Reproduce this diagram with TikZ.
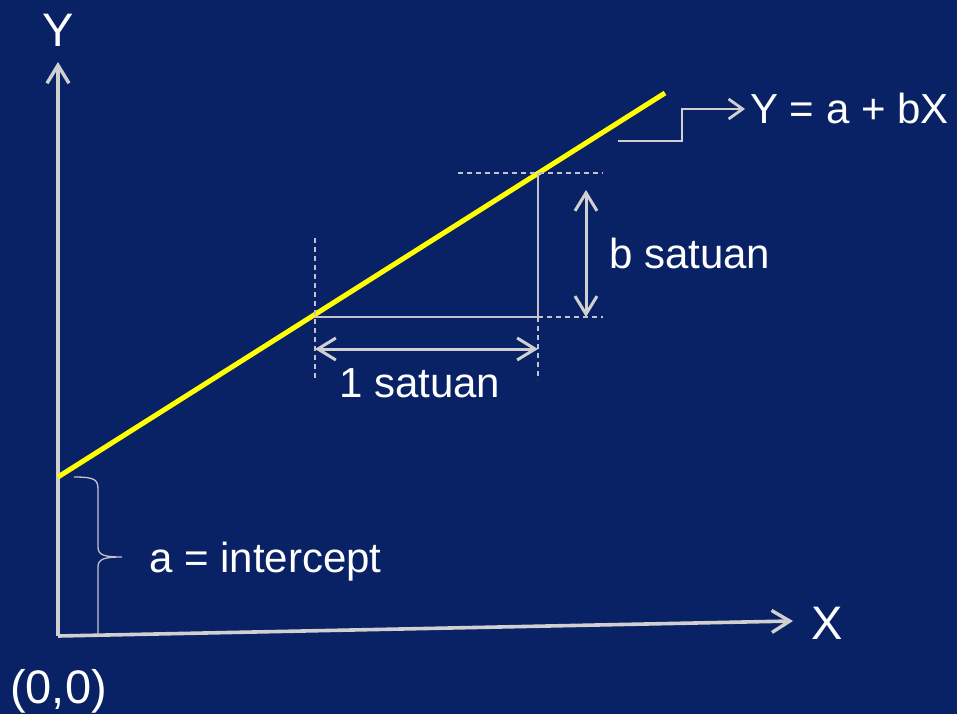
\documentclass[tikz,border=0pt]{standalone}
\usepackage{fontspec}
\setmainfont{Liberation Sans}
\usetikzlibrary{arrows.meta}
\definecolor{bg}{RGB}{9,34,102}
\definecolor{axisgray}{RGB}{208,208,208}
\definecolor{thingray}{RGB}{195,195,205}
\definecolor{lineyellow}{RGB}{255,255,0}
\begin{document}
\begin{tikzpicture}[x=1pt,y=-1pt,
  axis/.style={draw=axisgray,line width=3.6pt,-{Straight Barb[length=18pt,width=22pt,line width=3.4pt]}},
  dimarrow/.style={draw=axisgray,line width=3pt,{Straight Barb[length=18pt,width=22pt,line width=3pt]}-{Straight Barb[length=18pt,width=22pt,line width=3pt]}},
  thinline/.style={draw=thingray,line width=1.3pt},
  dashline/.style={draw=thingray,line width=1.3pt,dash pattern=on 5pt off 4pt},
  lbl/.style={text=white,inner sep=0pt,font=\fontsize{42}{48}\selectfont},
  axlbl/.style={text=white,inner sep=0pt,font=\fontsize{47}{54}\selectfont}]
\useasboundingbox (0,0) rectangle (957,714);
\fill[bg] (0,0) rectangle (957,714);
% coordinates
\coordinate (O) at (58,636);
\coordinate (Ytip) at (58,62);
\coordinate (Xtip) at (793,621);
\coordinate (A) at (58,477);
\coordinate (E) at (665,93);
\coordinate (P) at (315,317);
\coordinate (Q) at (538,173);
\coordinate (R) at (538,317);
% axes
\draw[axis] (O) -- (Ytip);
\draw[axis] (O) -- (Xtip);
% regression line
\draw[lineyellow,line width=5pt] (A) -- (E);
% construction lines
\draw[dashline] (458,173) -- (603,173);
\draw[dashline] (315,238) -- (315,380);
\draw[thinline] (Q) -- (R);
\draw[dashline] (R) -- (538,380);
\draw[thinline] (P) -- (R);
\draw[dashline] (R) -- (603,317);
% dimension arrows
\coordinate (h1) at (315,349);
\coordinate (h2) at (538,349);
\draw[dimarrow] (h1) -- (h2);
\coordinate (v1) at (586,190);
\coordinate (v2) at (586,317);
\draw[dimarrow] (v1) -- (v2);
% equation connector
\coordinate (c0) at (618,141);
\coordinate (c1) at (745,109);
\draw[draw=axisgray,line width=2.8pt,-{Straight Barb[length=14pt,width=20pt,line width=2.8pt]}]
  (c0) -- (682,141) -- (682,109) -- (c1);
% brace
\draw[thinline] (74,477) .. controls (96,477) and (98,480) .. (98,490) -- (98,547)
  .. controls (98,555) and (104,557) .. (122,557)
  .. controls (104,557) and (98,559) .. (98,567) -- (98,634);
% labels
\node[axlbl,anchor=base] (ylab) at (58,47) {Y};
\node[axlbl,anchor=base west] (xlab) at (811,639) {X};
\node[axlbl,anchor=base west] (olab) at (10,703) {(0,0)};
\node[lbl,anchor=base west] (eq) at (750,124) {Y = a + bX};
\node[lbl,anchor=base west] (bs) at (609,268) {b satuan};
\node[lbl,anchor=base west] (os) at (339,397) {1 satuan};
\node[lbl,anchor=base west] (ai) at (149,572) {a = intercept};
\end{tikzpicture}
\end{document}
